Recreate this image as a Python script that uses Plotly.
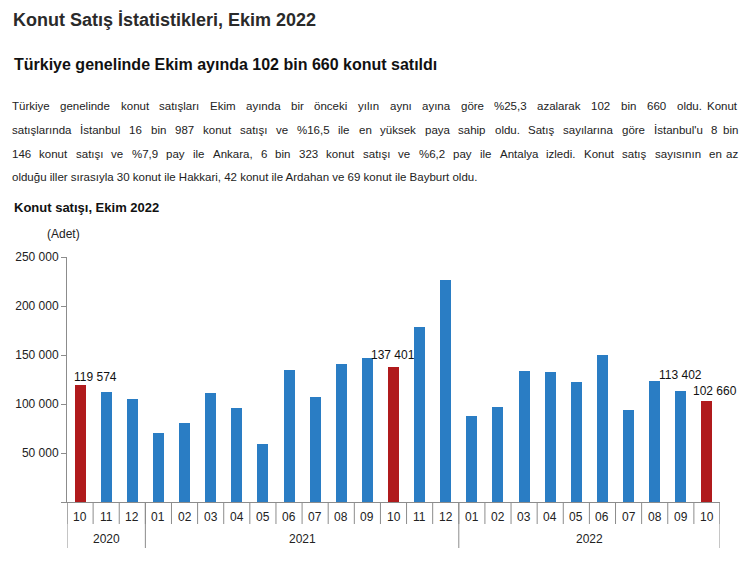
import plotly.graph_objects as go

months = ["10", "11", "12",
          "01", "02", "03", "04", "05", "06", "07", "08", "09", "10", "11", "12",
          "01", "02", "03", "04", "05", "06", "07", "08", "09", "10"]
years = ["2020", "2021", "2022"]
year_counts = [3, 12, 10]
sales = [119574, 112343, 105056,
         70297, 80545, 111566, 96012, 59485, 134678, 107190, 140879, 146789, 137401, 178519, 226989,
         87671, 97082, 133986, 132902, 122343, 150509, 93867, 123665, 113402, 102660]
highlight = [0, 12, 24]
labelled = [0, 12, 23, 24]
label_shift = {0: (15, 8), 12: (-1, 12), 23: (0, 16), 24: (8, 10)}
y_ticks = [0, 50000, 100000, 150000, 200000, 250000]
y_ticktext = ["", "50 000", "100 000", "150 000", "200 000", "250 000"]

title = "Konut Satış İstatistikleri, Ekim 2022"
subtitle = "Türkiye genelinde Ekim ayında 102 bin 660 konut satıldı"
paragraph = [
    "Türkiye genelinde konut satışları Ekim ayında bir önceki yılın aynı ayına göre %25,3 azalarak 102 bin 660 oldu. Konut",
    "satışlarında İstanbul 16 bin 987 konut satışı ve %16,5 ile en yüksek paya sahip oldu. Satış sayılarına göre İstanbul'u 8 bin",
    "146 konut satışı ve %7,9 pay ile Ankara, 6 bin 323 konut satışı ve %6,2 pay ile Antalya izledi. Konut satış sayısının en az",
    "olduğu iller sırasıyla 30 konut ile Hakkari, 42 konut ile Ardahan ve 69 konut ile Bayburt oldu.",
]
chart_title = "Konut satışı, Ekim 2022"
unit = "(Adet)"

BLUE = "#2A7DC4"
RED = "#B01A1C"
GRAY = "#8c8c8c"
FONT = "Liberation Sans, Arial, sans-serif"

# page offset (browser body margin)
OFF = 8
W, H = 753, 563
# plot area in window pixels
X0, X1, Y0, Y1 = 67, 720, 257, 502
L, T = X0 - OFF, Y0 - OFF
R, B = W - (X1 - OFF), H - (Y1 - OFF)
pw, ph = X1 - X0, Y1 - Y0


def px(x):
    return (x - X0) / pw


def py(y):
    return (Y1 - y) / ph


# Arial / Liberation Sans advance widths (per 1000 em)
AW = {" ": 278, "'": 191, "%": 889, ",": 278, ".": 278,
      "A": 667, "B": 667, "H": 722, "I": 278, "İ": 278, "K": 667, "S": 667, "T": 611, "E": 667,
      "a": 556, "b": 556, "c": 500, "d": 556, "e": 556, "f": 278, "g": 556, "h": 556, "i": 222,
      "j": 222, "k": 500, "l": 222, "m": 833, "n": 556, "o": 556, "p": 556, "q": 556, "r": 333,
      "s": 500, "t": 278, "u": 556, "v": 500, "w": 722, "x": 500, "y": 500, "z": 500,
      "ı": 278, "ş": 500, "ğ": 556, "ü": 556, "ö": 556, "ç": 500}


def text_w(s, size):
    return sum(AW.get(ch, 556) for ch in s) * size / 1000


n = len(sales)
xs = list(range(n))
colors = [RED if i in highlight else BLUE for i in xs]

fig = go.Figure(go.Bar(x=xs, y=sales, marker=dict(color=colors, line=dict(width=0)),
                       width=0.42, hoverinfo="x+y"))

annotations = []
for i in labelled:
    dx, dy = label_shift[i]
    annotations.append(dict(x=i, y=sales[i], xref="x", yref="y",
                            text=f"{sales[i]:,}".replace(",", " "),
                            showarrow=False, xanchor="center", yanchor="middle",
                            xshift=dx, yshift=dy,
                            font=dict(family=FONT, size=12, color="#111")))

# month labels
for i, m in enumerate(months):
    annotations.append(dict(x=i, y=py(517), xref="x", yref="paper", text=m,
                            showarrow=False, xanchor="center", yanchor="middle",
                            font=dict(family=FONT, size=12, color="#222")))

shapes = []
for i in range(n + 1):
    shapes.append(dict(type="line", xref="x", yref="paper", x0=i - 0.5, x1=i - 0.5,
                       y0=0, y1=py(524), line=dict(color=GRAY, width=1)))
start = 0
bounds = [0]
for yr, c in zip(years, year_counts):
    mid = start + (c - 1) / 2
    annotations.append(dict(x=mid, y=py(539), xref="x", yref="paper", text=yr,
                            showarrow=False, xanchor="center", yanchor="middle",
                            font=dict(family=FONT, size=12, color="#222")))
    start += c
    bounds.append(start)
for b in bounds:
    shapes.append(dict(type="line", xref="x", yref="paper", x0=b - 0.5, x1=b - 0.5,
                       y0=0, y1=py(548), line=dict(color=GRAY, width=1)))

# text block
annotations.append(dict(x=px(11), y=py(20), xref="paper", yref="paper", text=f"<b>{title}</b>",
                        showarrow=False, xanchor="left", yanchor="middle",
                        font=dict(family=FONT, size=18, color="#2a2a2a")))
annotations.append(dict(x=px(12), y=py(65), xref="paper", yref="paper", text=f"<b>{subtitle}</b>",
                        showarrow=False, xanchor="left", yanchor="middle",
                        font=dict(family=FONT, size=16, color="#111")))

PSIZE = 11.5
PL, PR = 10, 740
for k, line in enumerate(paragraph):
    yk = py(106 + 23.8 * k)
    words = line.split(" ")
    pfont = dict(family=FONT, size=PSIZE, color="#222")
    if k == len(paragraph) - 1:
        annotations.append(dict(x=px(PL), y=yk, xref="paper", yref="paper", text=line,
                                showarrow=False, xanchor="left", yanchor="middle", font=pfont))
        continue
    widths = [text_w(w, PSIZE) for w in words]
    gap = (PR - PL - sum(widths)) / (len(words) - 1)
    xcur = PL
    for j, (w, ww) in enumerate(zip(words, widths)):
        if j == len(words) - 1:
            annotations.append(dict(x=px(PR), y=yk, xref="paper", yref="paper", text=w,
                                    showarrow=False, xanchor="right", yanchor="middle", font=pfont))
        else:
            annotations.append(dict(x=px(xcur), y=yk, xref="paper", yref="paper", text=w,
                                    showarrow=False, xanchor="left", yanchor="middle", font=pfont))
        xcur += ww + gap

annotations.append(dict(x=px(12), y=py(207), xref="paper", yref="paper", text=f"<b>{chart_title}</b>",
                        showarrow=False, xanchor="left", yanchor="middle",
                        font=dict(family=FONT, size=13, color="#111")))
annotations.append(dict(x=px(45), y=py(234), xref="paper", yref="paper", text=unit,
                        showarrow=False, xanchor="left", yanchor="middle",
                        font=dict(family=FONT, size=12, color="#222")))

fig.update_layout(
    width=W, height=H,
    margin=dict(l=L, r=R, t=T, b=B, pad=0),
    paper_bgcolor="white", plot_bgcolor="white",
    showlegend=False,
    bargap=0,
    xaxis=dict(range=[-0.5, n - 0.5], showticklabels=False, ticks="", showgrid=False,
               zeroline=False, showline=True, linecolor=GRAY, linewidth=1, fixedrange=True),
    yaxis=dict(range=[0, 250000], tickvals=y_ticks, ticktext=y_ticktext, ticks="outside",
               ticklen=5, tickcolor=GRAY, showgrid=False, zeroline=False, showline=True,
               linecolor=GRAY, linewidth=1, tickfont=dict(family=FONT, size=12, color="#222"),
               fixedrange=True, automargin=False),
    annotations=annotations,
    shapes=shapes,
)

fig.write_html("out.html")
